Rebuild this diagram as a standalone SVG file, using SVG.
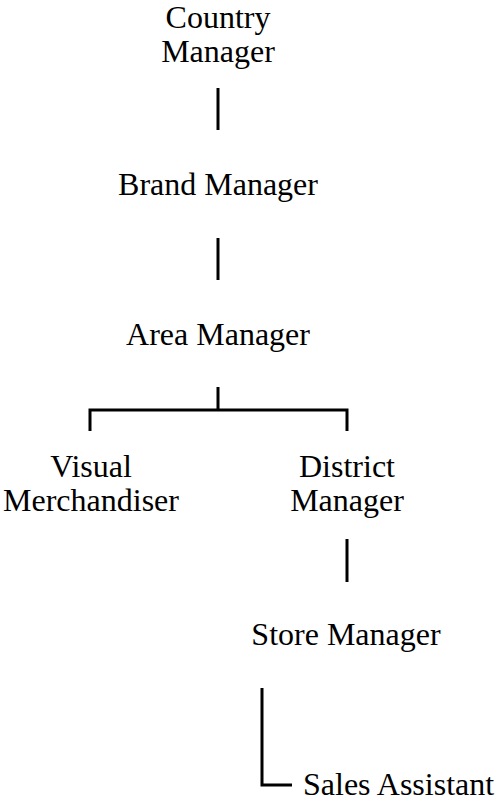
<svg xmlns="http://www.w3.org/2000/svg" width="496" height="801" viewBox="0 0 496 801">
<style>
text{font-family:"Liberation Serif","Times New Roman",serif;font-size:32px;fill:#000;}
.c{text-anchor:middle;}
.ln{stroke:#000;stroke-width:3;fill:none;}
</style>
<rect width="496" height="801" fill="#fff"/>
<g id="connectors">
<line class="ln" x1="218" y1="88" x2="218" y2="130"/>
<line class="ln" x1="218" y1="238" x2="218" y2="280"/>
<path class="ln" d="M218 387V410M90 431V410H347V431"/>
<line class="ln" x1="347" y1="539" x2="347" y2="582"/>
<path class="ln" d="M262 688V785H292"/>
</g>
<g id="country-manager"><text class="c" x="218" y="28">Country</text><text class="c" x="218" y="62">Manager</text></g>
<g id="brand-manager"><text class="c" x="218" y="195">Brand Manager</text></g>
<g id="area-manager"><text class="c" x="218" y="345">Area Manager</text></g>
<g id="visual-merchandiser"><text class="c" x="91" y="477">Visual</text><text class="c" x="91" y="511">Merchandiser</text></g>
<g id="district-manager"><text class="c" x="347" y="477">District</text><text class="c" x="347" y="511">Manager</text></g>
<g id="store-manager"><text class="c" x="346" y="645">Store Manager</text></g>
<g id="sales-assistant"><text x="303" y="795">Sales Assistant</text></g>
</svg>
